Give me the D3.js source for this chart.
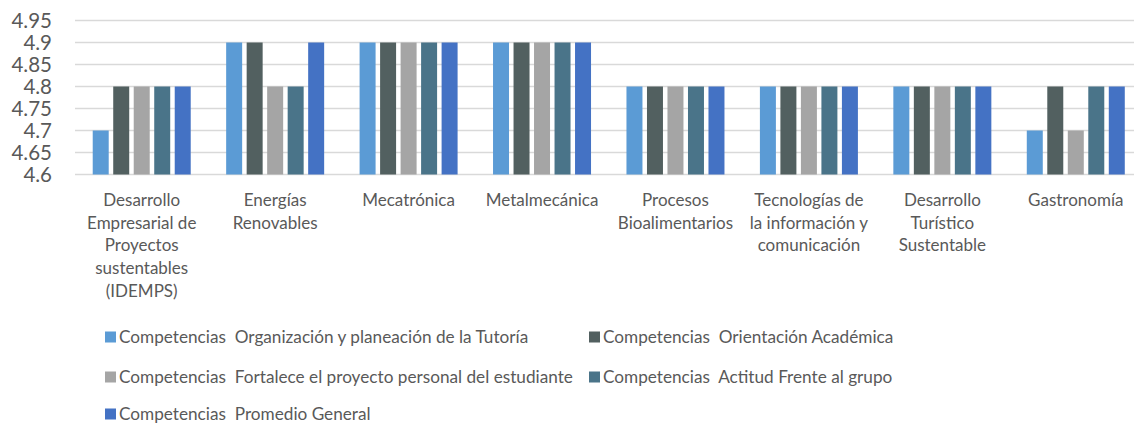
<!DOCTYPE html>
<html>
<head>
<meta charset="utf-8">
<script src="https://cdn.jsdelivr.net/npm/d3@7"></script>
<style>
  body { margin: 0; background: #fff; }
  svg text { font-family: Lato, "Open Sans", sans-serif; fill: #595959; }
</style>
</head>
<body>
<svg id="chart" width="1134" height="424"></svg>
<script>
// categories (label lines as shown under the axis)
const categories = [
  ["Desarrollo", "Empresarial de", "Proyectos", "sustentables", "(IDEMPS)"],
  ["Energías", "Renovables"],
  ["Mecatrónica"],
  ["Metalmecánica"],
  ["Procesos", "Bioalimentarios"],
  ["Tecnologías de", "la información y", "comunicación"],
  ["Desarrollo", "Turístico", "Sustentable"],
  ["Gastronomía"]
];

const seriesNames = [
  "Competencias  Organización y planeación de la Tutoría",
  "Competencias  Orientación Académica",
  "Competencias  Fortalece el proyecto personal del estudiante",
  "Competencias  Actitud Frente al grupo",
  "Competencias  Promedio General"
];
const colors = ["#5B9BD5", "#526060", "#A5A5A5", "#4A7489", "#4472C4"];

// values per series, one per category
const organizacion = [4.7, 4.9, 4.9, 4.9, 4.8, 4.8, 4.8, 4.7];
const orientacion  = [4.8, 4.9, 4.9, 4.9, 4.8, 4.8, 4.8, 4.8];
const fortalece    = [4.8, 4.8, 4.9, 4.9, 4.8, 4.8, 4.8, 4.7];
const actitud      = [4.8, 4.8, 4.9, 4.9, 4.8, 4.8, 4.8, 4.8];
const promedio     = [4.8, 4.9, 4.9, 4.9, 4.8, 4.8, 4.8, 4.8];
const seriesValues = [organizacion, orientacion, fortalece, actitud, promedio];

const yTicks = [4.6, 4.65, 4.7, 4.75, 4.8, 4.85, 4.9, 4.95];

const svg = d3.select("#chart");

// scales
const x0 = d3.scaleBand()
  .domain(d3.range(categories.length))
  .range([75, 1142.5]);

const groupPad = (x0.bandwidth() - 98) / 2;
const x1 = d3.scaleBand()
  .domain(d3.range(seriesNames.length))
  .range([groupPad, x0.bandwidth() - groupPad])
  .paddingInner(0.22);

const y = d3.scaleLinear()
  .domain([4.6, 4.95])
  .range([174.5, 20.5]);

// gridlines
svg.append("g")
  .selectAll("line")
  .data(yTicks)
  .join("line")
  .attr("x1", 75)
  .attr("x2", 1142)
  .attr("y1", d => y(d))
  .attr("y2", d => y(d))
  .attr("stroke", "#D9D9D9")
  .attr("stroke-width", 1.5);

// y axis labels
const yAxis = svg.append("g")
  .attr("transform", "translate(52,0)")
  .call(d3.axisLeft(y).tickValues(yTicks).tickSize(0).tickPadding(0).tickFormat(d => String(+d.toFixed(2))));
yAxis.select(".domain").remove();
yAxis.selectAll("text")
  .attr("font-size", 20.5)
  .attr("fill", "#595959")
  .style("font-family", "Lato, 'Open Sans', sans-serif");

// bars
const groups = svg.append("g")
  .selectAll("g")
  .data(categories.map((c, i) => i))
  .join("g")
  .attr("transform", i => `translate(${x0(i)},0)`);

groups.selectAll("rect")
  .data(i => seriesValues.map((vals, s) => ({ s, v: vals[i] })))
  .join("rect")
  .attr("x", d => x1(d.s))
  .attr("width", x1.bandwidth())
  .attr("y", d => y(d.v))
  .attr("height", d => y(4.6) - y(d.v))
  .attr("fill", d => colors[d.s]);

// category labels
const catLabels = svg.append("g")
  .selectAll("text")
  .data(categories)
  .join("text")
  .attr("text-anchor", "middle")
  .attr("font-size", 17)
  .attr("x", (d, i) => x0(i) + x0.bandwidth() / 2)
  .attr("y", 206);

catLabels.selectAll("tspan")
  .data(d => d)
  .join("tspan")
  .attr("x", function() { return this.parentNode.getAttribute("x"); })
  .attr("dy", (d, i) => i === 0 ? 0 : 22.7)
  .text(d => d);

// legend
const legendPos = [
  [105, 337], [589, 337],
  [105, 377], [589, 377],
  [105, 414]
];
const legend = svg.append("g")
  .selectAll("g")
  .data(seriesNames)
  .join("g")
  .attr("transform", (d, i) => `translate(${legendPos[i][0]},${legendPos[i][1]})`);

legend.append("rect")
  .attr("x", 0)
  .attr("y", -5.5)
  .attr("width", 11)
  .attr("height", 11)
  .attr("fill", (d, i) => colors[i]);

legend.append("text")
  .attr("x", 14)
  .attr("y", 6)
  .attr("font-size", 17.2)
  .style("white-space", "pre")
  .text(d => d);
</script>
</body>
</html>
